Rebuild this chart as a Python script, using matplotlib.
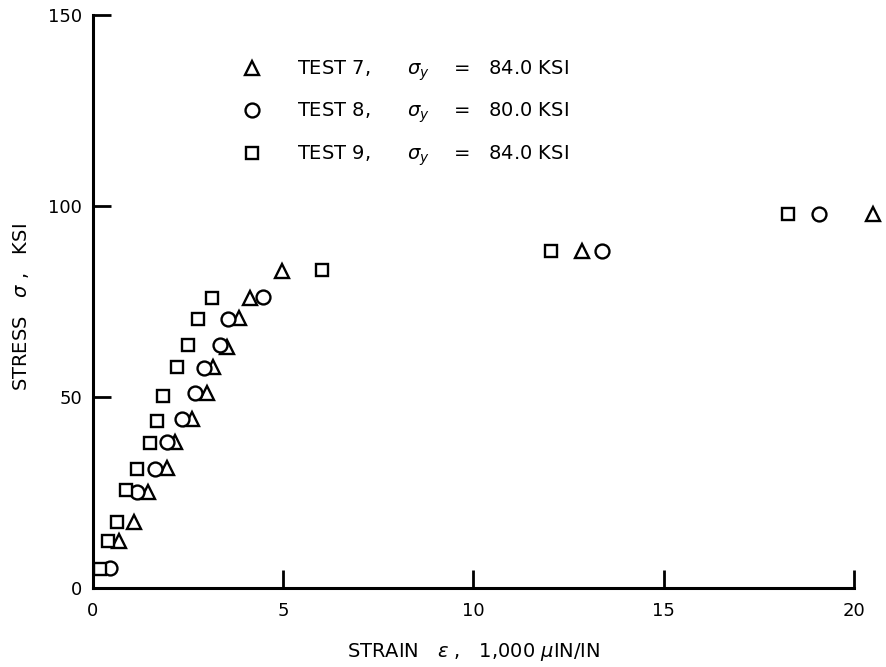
import matplotlib
matplotlib.use("Agg")
import matplotlib.pyplot as plt

# stress-strain readings, strain in 1,000 microinch/inch, stress in ksi
test7_strain = [0.69, 1.08, 1.45, 1.94, 2.16, 2.59, 2.99, 3.16, 3.53, 3.84, 4.13, 4.96, 12.84, 20.5]
test7_stress = [12.4, 17.3, 25.2, 31.5, 38.1, 44.2, 51.1, 57.9, 63.2, 70.6, 75.8, 83.1, 88.2, 97.9]

test8_strain = [0.45, 1.16, 1.63, 1.94, 2.33, 2.68, 2.92, 3.34, 3.56, 4.48, 13.39, 19.08]
test8_stress = [5.2, 25.2, 31.2, 38.1, 44.2, 51.0, 57.7, 63.6, 70.3, 76.3, 88.2, 97.9]

test9_strain = [0.18, 0.40, 0.64, 0.88, 1.16, 1.51, 1.68, 1.85, 2.21, 2.51, 2.75, 3.13, 6.02, 12.04, 18.27]
test9_stress = [4.9, 12.4, 17.3, 25.6, 31.2, 37.9, 43.8, 50.3, 57.9, 63.5, 70.5, 75.9, 83.2, 88.2, 97.9]

labels = [r"TEST 7,      $\sigma_y$    =   84.0 KSI",
          r"TEST 8,      $\sigma_y$    =   80.0 KSI",
          r"TEST 9,      $\sigma_y$    =   84.0 KSI"]

x_ticks = [0, 5, 10, 15, 20]
y_ticks = [0, 50, 100, 150]

plt.rcParams["font.family"] = "DejaVu Sans"
plt.rcParams["mathtext.fontset"] = "dejavusans"
plt.rcParams["font.size"] = 14

fig = plt.figure(figsize=(8.87, 6.67), dpi=100)
ax = fig.add_axes([0.1048, 0.1184, 0.8580, 0.8591])

marker_style = dict(linestyle="none", markerfacecolor="white", markeredgecolor="black",
                    markeredgewidth=1.7, clip_on=False)
ax.plot(test7_strain, test7_stress, marker="^", markersize=10, label=labels[0], **marker_style)
ax.plot(test8_strain, test8_stress, marker="o", markersize=10, label=labels[1], **marker_style)
ax.plot(test9_strain, test9_stress, marker="s", markersize=9, label=labels[2], **marker_style)

ax.set_xlim(0, 20)
ax.set_ylim(0, 150)
ax.set_xticks(x_ticks)
ax.set_yticks(y_ticks)

for side in ["top", "right"]:
    ax.spines[side].set_visible(False)
for side in ["left", "bottom"]:
    ax.spines[side].set_linewidth(2.2)

ax.tick_params(direction="in", length=13, width=2, labelsize=13)
ax.tick_params(axis="x", pad=10)
ax.tick_params(axis="y", pad=8)

ax.set_xlabel(r"STRAIN   $\epsilon$ ,   1,000 $\mu$IN/IN", fontsize=14)
ax.set_ylabel(r"STRESS   $\sigma$ ,   KSI", fontsize=14)
ax.xaxis.set_label_coords(0.5, -0.092)
ax.yaxis.set_label_coords(-0.082, 0.49)

ax.legend(loc="upper left", bbox_to_anchor=(0.196, 0.924), frameon=False,
          borderpad=0, borderaxespad=0, handlelength=1.0, handletextpad=1.82,
          labelspacing=0.92, fontsize=14)

fig.savefig("out.png", dpi=100)
